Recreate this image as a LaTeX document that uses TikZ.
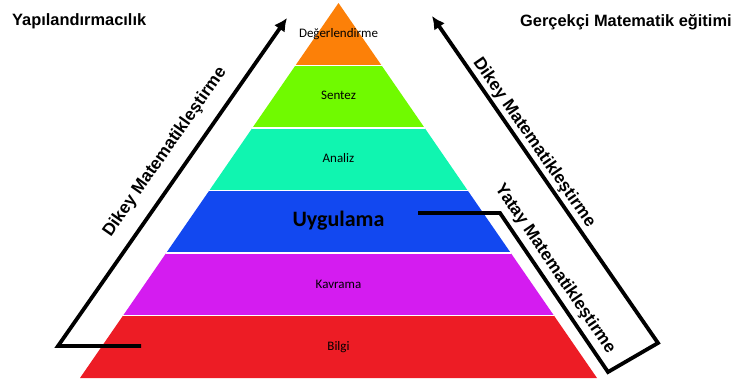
\documentclass[tikz,border=0pt]{standalone}
\usepackage{fontspec}
\setmainfont{Carlito}
\newfontfamily\arialfont{Liberation Sans}
\usetikzlibrary{arrows.meta}
\definecolor{lvorange}{RGB}{252,128,8}
\definecolor{lvgreen}{RGB}{112,250,0}
\definecolor{lvteal}{RGB}{16,245,176}
\definecolor{lvblue}{RGB}{18,72,240}
\definecolor{lvpurple}{RGB}{212,28,240}
\definecolor{lvred}{RGB}{237,28,37}
\begin{document}
\begin{tikzpicture}[x=1pt,y=-1pt,
  sep/.style={draw=white, line width=1.2pt},
  lvl/.style={font=\fontsize{13}{15}\selectfont, anchor=base, inner sep=0, text=black},
  bigl/.style={font=\bfseries\fontsize{22}{24}\selectfont, anchor=base, inner sep=0, text=black},
  title/.style={font=\arialfont\bfseries\fontsize{16.4}{19}\selectfont, anchor=base west, inner sep=0},
  axislabel/.style={font=\arialfont\bfseries\fontsize{17.3}{20}\selectfont, inner sep=0},
  conn/.style={line width=3.8pt, line join=miter},
  tipped/.style={-{Latex[length=13pt,width=13pt]}}
]
\useasboundingbox (0,0) rectangle (733,378);

% pyramid bands
\fill[lvred]    (123.1,315.5) -- (553.9,315.5) -- (597,378) -- (80,378) -- cycle;
\fill[lvpurple] (166.2,253) -- (510.8,253) -- (553.9,315.5) -- (123.1,315.5) -- cycle;
\fill[lvblue]   (209.3,190.5) -- (467.7,190.5) -- (510.8,253) -- (166.2,253) -- cycle;
\fill[lvteal]   (252.3,128) -- (424.7,128) -- (467.7,190.5) -- (209.3,190.5) -- cycle;
\fill[lvgreen]  (295.4,65.5) -- (381.6,65.5) -- (424.7,128) -- (252.3,128) -- cycle;
\fill[lvorange] (338.5,3) -- (381.6,65.5) -- (295.4,65.5) -- cycle;
% white separators between bands
\draw[sep] (295.4,65.5) -- (381.6,65.5);
\draw[sep] (252.3,128) -- (424.7,128);
\draw[sep] (209.3,190.5) -- (467.7,190.5);
\draw[sep] (166.2,253) -- (510.8,253);
\draw[sep] (123.1,315.5) -- (553.9,315.5);

% level labels
\node[lvl] (deg) at (338.5,37) {Değerlendirme};
\node[lvl] (sen) at (338.5,99.5) {Sentez};
\node[lvl] (ana) at (338.5,162) {Analiz};
\node[bigl] (uyg) at (338.5,226.7) {Uygulama};
\node[lvl] (kav) at (338.5,288) {Kavrama};
\node[lvl] (bil) at (338.5,350.5) {Bilgi};

% titles
\node[title] (t1) at (12,25) {Yapılandırmacılık};
\node[title] (t2) at (520,26) {Gerçekçi Matematik eğitimi};

% left arrow
\coordinate (Lend) at (141,346);
\coordinate (Lcorner) at (58,346);
\coordinate (Ltip) at (287,18);
\draw[conn, tipped] (Lend) -- (Lcorner) -- (Ltip);

% right arrow
\coordinate (Rend) at (418,213);
\coordinate (Rk1) at (500,213);
\coordinate (Rk2) at (608,372);
\coordinate (Rk3) at (658,343);
\coordinate (Rtip) at (432,16);
\draw[conn, tipped] (Rend) -- (Rk1) -- (Rk2) -- (Rk3) -- (Rtip);

% arrow labels
\node[axislabel, rotate=55] (ldikey) at (165,152) {Dikey Matematikleştirme};
\node[axislabel, rotate=-55.3] (rdikey) at (534,143) {Dikey Matematikleştirme};
\node[axislabel, rotate=-55.8] (yatay) at (555,269) {Yatay Matematikleştirme};
\end{tikzpicture}
\end{document}
